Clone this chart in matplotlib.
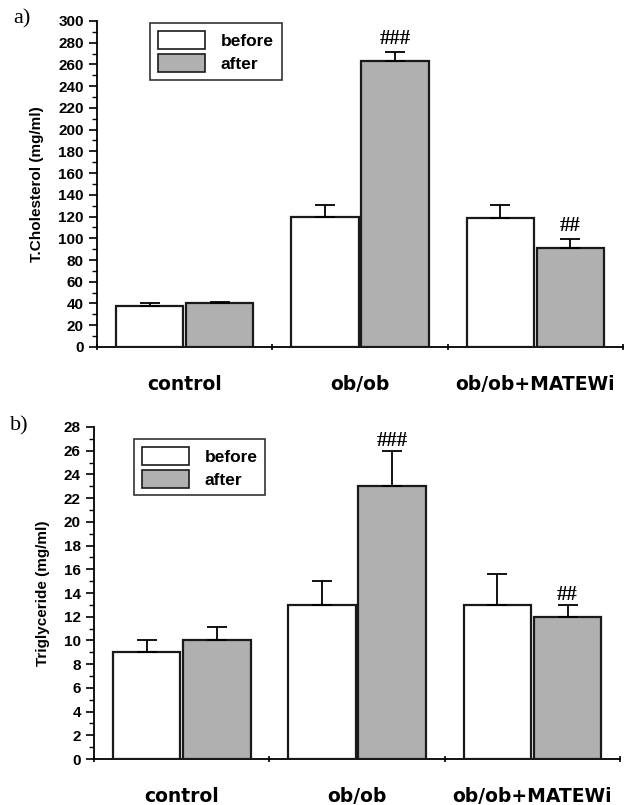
import numpy as np
import matplotlib
matplotlib.use("Agg")
import matplotlib.pyplot as plt
from matplotlib.patches import Patch
from matplotlib.ticker import MultipleLocator, FixedLocator, NullFormatter, FixedFormatter

groups = ["control", "ob/ob", "ob/ob+MATEWi"]

chol_before = [38, 120, 119]
chol_before_err = [2.5, 11, 12]
chol_after = [40, 263, 91]
chol_after_err = [1.5, 8, 8]
chol_marks = ["", "###", "##"]

tg_before = [9, 13, 13]
tg_before_err = [1.0, 2.0, 2.6]
tg_after = [10, 23, 12]
tg_after_err = [1.1, 3.0, 1.0]
tg_marks = ["", "###", "##"]

GRAY = "#b0b0b0"
EDGE = "#1a1a1a"
SANS = ["Liberation Sans", "DejaVu Sans"]
SERIF = ["Liberation Serif", "DejaVu Serif"]

fig = plt.figure(figsize=(6.44, 8.05), dpi=100, facecolor="white")


def panel(rect, before, b_err, after, a_err, marks, ymax, major, minor,
          ylabel, letter, legend_pos, mark_pad):
    ax = fig.add_axes(rect)
    x = np.arange(1, len(groups) + 1)
    w = 0.385
    err_kw = dict(ecolor="black", elinewidth=1.3, capsize=7.5, capthick=1.3)
    ax.bar(x - 0.2, before, w, color="white", edgecolor=EDGE, linewidth=1.6,
           yerr=[np.zeros(len(b_err)), b_err], error_kw=err_kw, zorder=3)
    ax.bar(x + 0.2, after, w, color=GRAY, edgecolor=EDGE, linewidth=1.6,
           yerr=[np.zeros(len(a_err)), a_err], error_kw=err_kw, zorder=3)

    # marcas de significância acima das barras "after"
    for xi, v, e, m in zip(x, after, a_err, marks):
        if m:
            ax.text(xi + 0.2, v + e + mark_pad, m, ha="center", va="bottom",
                    family=SERIF, fontsize=15, fontweight="bold", zorder=4)

    ax.set_xlim(0.5, 3.5)
    ax.set_ylim(0, ymax)
    for s in ["top", "right"]:
        ax.spines[s].set_visible(False)
    ax.spines["left"].set_linewidth(1.3)
    ax.spines["bottom"].set_linewidth(1.3)

    ax.yaxis.set_major_locator(MultipleLocator(major))
    ax.yaxis.set_minor_locator(MultipleLocator(minor))
    ax.tick_params(axis="y", which="major", length=6, width=1.2, direction="out")
    ax.tick_params(axis="y", which="minor", length=3.5, width=1.0, direction="out")
    for lab in ax.get_yticklabels():
        lab.set_family(SANS)
        lab.set_fontweight("bold")
        lab.set_fontsize(11)

    ax.xaxis.set_major_locator(FixedLocator([0.5, 1.5, 2.5, 3.5]))
    ax.xaxis.set_major_formatter(NullFormatter())
    ax.xaxis.set_minor_locator(FixedLocator(list(x)))
    ax.xaxis.set_minor_formatter(FixedFormatter(groups))
    ax.tick_params(axis="x", which="major", length=4, width=1.2, direction="inout")
    ax.tick_params(axis="x", which="minor", length=0, pad=20)
    for lab in ax.get_xticklabels(minor=True):
        lab.set_family(["DejaVu Sans"])
        lab.set_fontweight("bold")
        lab.set_fontsize(13.5)

    ax.set_ylabel(ylabel, family=SANS, fontweight="bold", fontsize=11, labelpad=10)

    handles = [Patch(facecolor="white", edgecolor=EDGE, linewidth=1.2, label="before"),
               Patch(facecolor=GRAY, edgecolor=EDGE, linewidth=1.2, label="after")]
    leg = ax.legend(handles=handles, loc="upper left", bbox_to_anchor=legend_pos,
                    frameon=True, fancybox=False, edgecolor="black",
                    prop=dict(family=SANS, weight="bold", size=12.5),
                    handlelength=2.7, handleheight=1.2, borderpad=0.45,
                    labelspacing=0.3, handletextpad=0.9)
    leg.get_frame().set_linewidth(1.2)

    fig.text(rect[0] - 0.13, rect[1] + rect[3] + 0.002, letter, family=SERIF,
             fontsize=16, ha="left", va="center")
    return ax


panel([0.1506, 0.569, 0.8168, 0.405], chol_before, chol_before_err,
      chol_after, chol_after_err, chol_marks, 300, 20, 10,
      "T.Cholesterol (mg/ml)", "a)", (0.085, 1.02), 3)

panel([0.146, 0.0571, 0.817, 0.4125], tg_before, tg_before_err,
      tg_after, tg_after_err, tg_marks, 28, 2, 1,
      "Triglyceride (mg/ml)", "b)", (0.06, 0.99), 0.0)

fig.savefig("out.png", dpi=100, facecolor="white")
